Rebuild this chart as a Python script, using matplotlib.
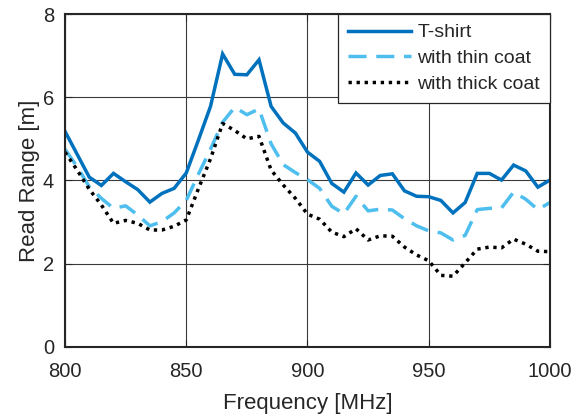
import matplotlib
matplotlib.use("Agg")
import matplotlib.pyplot as plt

freq = [800, 805, 810, 815, 820, 825, 830, 835, 840, 845,
        850, 855, 860, 865, 870, 875, 880, 885, 890, 895,
        900, 905, 910, 915, 920, 925, 930, 935, 940, 945,
        950, 955, 960, 965, 970, 975, 980, 985, 990, 995, 1000]

tshirt = [5.18, 4.63, 4.08, 3.88, 4.17, 3.97, 3.78, 3.48, 3.69, 3.81,
          4.18, 4.97, 5.78, 7.04, 6.55, 6.54, 6.90, 5.78, 5.38, 5.14,
          4.68, 4.46, 3.93, 3.72, 4.18, 3.89, 4.12, 4.16, 3.75, 3.62,
          3.61, 3.52, 3.22, 3.47, 4.17, 4.17, 4.01, 4.37, 4.23, 3.84, 4.01]

thin_coat = [4.75, 4.33, 3.85, 3.57, 3.33, 3.39, 3.17, 2.91, 3.01, 3.22,
             3.52, 4.15, 4.75, 5.40, 5.76, 5.58, 5.72, 4.88, 4.38, 4.19,
             4.02, 3.81, 3.38, 3.20, 3.62, 3.27, 3.31, 3.29, 3.08, 2.91,
             2.79, 2.74, 2.57, 2.68, 3.30, 3.33, 3.34, 3.72, 3.55, 3.30, 3.47]

thick_coat = [4.68, 4.25, 3.79, 3.41, 2.97, 3.04, 2.97, 2.81, 2.81, 2.90,
              3.05, 3.80, 4.52, 5.37, 5.20, 5.00, 5.06, 4.25, 3.89, 3.57,
              3.19, 3.07, 2.76, 2.65, 2.84, 2.57, 2.67, 2.66, 2.40, 2.21,
              2.07, 1.72, 1.70, 2.02, 2.35, 2.40, 2.38, 2.59, 2.47, 2.30, 2.29]

labels = ["T-shirt", "with thin coat", "with thick coat"]
xticks = [800, 850, 900, 950, 1000]
yticks = [0, 2, 4, 6, 8]

plt.rcParams['font.family'] = ['Liberation Sans', 'DejaVu Sans']
plt.rcParams['lines.scale_dashes'] = False
txt = '#262626'

fig = plt.figure(figsize=(5.82, 4.18), dpi=100)
ax = fig.add_axes([0.1117, 0.170, 0.8333, 0.7965])

ax.plot(freq, tshirt, color='#0072BD', lw=2.5, label=labels[0],
        solid_joinstyle='miter')
ax.plot(freq, thin_coat, color='#4DBEEE', lw=2.5, dashes=(13, 7),
        label=labels[1], dash_capstyle='butt')
ax.plot(freq, thick_coat, color='black', lw=2.5, dashes=(2.4, 3.4),
        label=labels[2], dash_capstyle='butt')

ax.set_xlim(800, 1000)
ax.set_ylim(0, 8)
ax.set_xticks(xticks)
ax.set_yticks(yticks)
ax.grid(True, color='#3a3a3a', lw=0.8)
ax.set_axisbelow(True)
for s in ax.spines.values():
    s.set_color(txt)
    s.set_linewidth(1.5)
ax.tick_params(direction='in', length=5, width=0.8, colors=txt,
               labelsize=14.5, top=True, right=True)
ax.tick_params(axis='x', pad=10.5)
ax.tick_params(axis='y', pad=8)
ax.set_xlabel('Frequency [MHz]', fontsize=16, color=txt, labelpad=9)
ax.set_ylabel('Read Range [m]', fontsize=16, color=txt, labelpad=2)

leg = ax.legend(loc='upper right', fontsize=14, fancybox=False,
                framealpha=1, edgecolor=txt, borderaxespad=0,
                handlelength=3.25, handletextpad=0.35, labelspacing=0.42,
                borderpad=0.5)
leg.get_frame().set_linewidth(0.9)
for t in leg.get_texts():
    t.set_color(txt)

fig.savefig('out.png', dpi=100)
